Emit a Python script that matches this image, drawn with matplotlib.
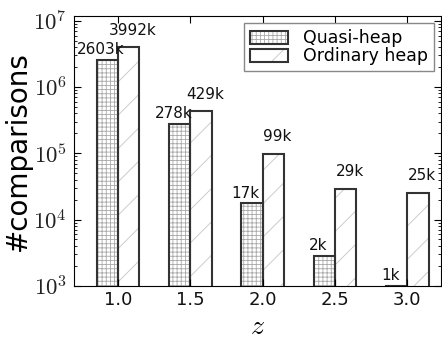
import matplotlib
matplotlib.use("Agg")
import matplotlib.pyplot as plt
from matplotlib.patches import Patch
from matplotlib.legend_handler import HandlerTuple
from matplotlib.ticker import FuncFormatter
import numpy as np

plt.rcParams["font.family"] = ["DejaVu Sans"]
plt.rcParams["mathtext.fontset"] = "cm"
plt.rcParams["hatch.linewidth"] = 0.6

# comparison counts, in thousands
z_values = [1.0, 1.5, 2.0, 2.5, 3.0]
z_labels = ["1.0", "1.5", "2.0", "2.5", "3.0"]
quasi_k = [2603, 278, 17.5, 2.8, 1.0]
ordinary_k = [3992, 429, 99, 29, 25]
series_names = ["Quasi-heap", "Ordinary heap"]

width = 0.148
edge = "#333333"
quasi_hatch_col = "#a8a8a8"
ord_hatch_col = "#c4c4c4"

fig = plt.figure(figsize=(4.42, 3.39), dpi=100)
ax = fig.add_axes([0.1674, 0.157, 0.8303, 0.797])

x = np.array(z_values)
q = np.array(quasi_k) * 1000
o = np.array(ordinary_k) * 1000

# hatched fill layer, then a plain outline on top
ax.bar(x - width / 2, q, width, bottom=0, facecolor="white",
       edgecolor=quasi_hatch_col, hatch="++++", linewidth=0)
ax.bar(x + width / 2, o, width, bottom=0, facecolor="white",
       edgecolor=ord_hatch_col, hatch="/", linewidth=0)
ax.bar(x - width / 2, q, width, bottom=0, fill=False,
       edgecolor=edge, linewidth=1.5)
ax.bar(x + width / 2, o, width, bottom=0, fill=False,
       edgecolor=edge, linewidth=1.5)

for xi, v in zip(x, quasi_k):
    ax.annotate(f"{int(v)}k", (xi - width / 2, v * 1000), xytext=(-4.5, 2),
                textcoords="offset points", ha="center", va="bottom",
                fontsize=11, color="#111111")
for xi, v in zip(x, ordinary_k):
    ax.annotate(f"{int(v)}k", (xi + width / 2, v * 1000), xytext=(3, 7),
                textcoords="offset points", ha="center", va="bottom",
                fontsize=11, color="#111111")

ax.set_yscale("log")
ax.set_ylim(1e3, 1.2e7)
ax.set_xlim(0.696, 3.232)
ax.set_xticks(x)
ax.set_xticklabels(z_labels, fontsize=13)
ax.yaxis.set_major_formatter(
    FuncFormatter(lambda v, pos: r"$10^{%d}$" % round(np.log10(v))))
ax.tick_params(axis="y", labelsize=16.5, pad=5, labelcolor="#222222")
ax.tick_params(which="both", direction="in", top=True, right=True)
ax.tick_params(which="major", length=5)
ax.tick_params(which="minor", length=2.5)
ax.tick_params(axis="x", pad=4, labelcolor="#111111")

ax.set_ylabel("#comparisons", fontsize=20, labelpad=1)
ax.set_xlabel("$z$", fontsize=20, labelpad=2)

h_q = (Patch(facecolor="white", edgecolor=quasi_hatch_col, hatch="++++", linewidth=0),
       Patch(fill=False, edgecolor=edge, linewidth=1.5))
h_o = (Patch(facecolor="white", edgecolor=ord_hatch_col, hatch="/", linewidth=0),
       Patch(fill=False, edgecolor=edge, linewidth=1.5))
leg = ax.legend([h_q, h_o], series_names, loc="upper right", fontsize=12.5,
                handler_map={tuple: HandlerTuple(ndivide=1)},
                handlelength=2.2, handleheight=0.75, handletextpad=0.85,
                labelspacing=0.0, borderpad=0.35, borderaxespad=0,
                fancybox=False, framealpha=1, edgecolor="#888888",
                bbox_to_anchor=(0.981, 0.972))
leg.get_frame().set_linewidth(1.0)

fig.savefig("out.png", dpi=100)
